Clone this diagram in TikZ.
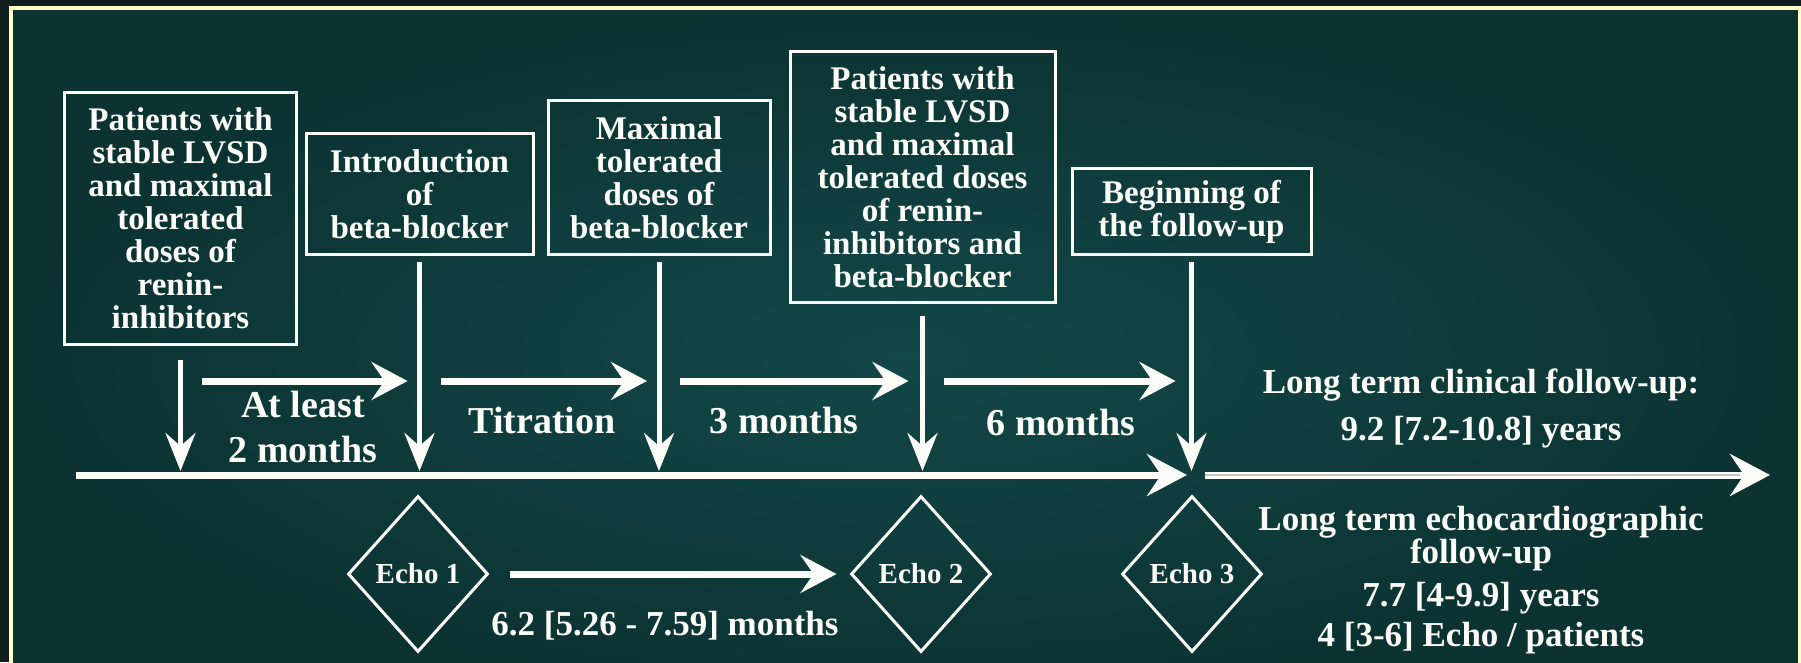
\documentclass[tikz,border=0pt]{standalone}
\usepackage{fontspec}
\setmainfont{Liberation Serif}
\usepackage{xcolor}
\usepackage{tikz}
\usetikzlibrary{arrows.meta,shapes.geometric,calc}
\definecolor{edgedark}{RGB}{15,31,31}
\definecolor{boardin}{RGB}{19,72,72}
\definecolor{boardout}{RGB}{12,50,50}
\definecolor{chalkframe}{RGB}{255,255,200}
\definecolor{chalk}{RGB}{252,252,248}
\tikzset{
  box/.style={
    draw=chalk,
    line width=3pt,
    align=center,
    anchor=south,
    inner sep=0pt,
    text=chalk,
    font=\fontsize{33}{33}\selectfont\bfseries
  },
  echo/.style={diamond, draw=chalk, line width=3pt, inner sep=0pt,
    minimum width=140pt, minimum height=156pt, text=chalk,
    font=\fontsize{29}{30}\selectfont\bfseries},
  lbl/.style={align=center, text=chalk, font=\fontsize{38}{45}\selectfont\bfseries},
  note/.style={align=center, text=chalk, font=\fontsize{35}{40}\selectfont\bfseries},
  drop/.style={draw=chalk, line width=5pt, -{Stealth[length=38pt, width=30pt, inset=13pt]}},
  span/.style={draw=chalk, line width=7pt, -{Stealth[length=36pt, width=38pt, inset=13pt]}},
  timeline/.style={draw=chalk, line width=7pt, -{Stealth[length=40pt, width=42pt, inset=14pt]}}
}

\begin{document}
\begin{tikzpicture}[x=1pt,y=-1pt]
    \useasboundingbox (0,0) rectangle (1801,662);
    \fill[edgedark] (0,0) rectangle (1801,662);
    \shade[inner color=boardin, outer color=boardout] (11,8) rectangle (1799.5,700);
    \draw[chalkframe, line width=4pt] (11,700) -- (11,8) -- (1799.5,8) -- (1799.5,700);

    % milestones above the time axis
    \node[box, minimum width=232pt, minimum height=252pt] (start) at (180.5,346)
      {Patients with\\stable LVSD\\and maximal\\tolerated\\doses of\\renin-\\inhibitors};
    \node[box, minimum width=227pt, minimum height=121pt] (intro) at (419.5,256)
      {Introduction\\of\\beta-blocker};
    \node[box, minimum width=222pt, minimum height=154pt] (maxdose) at (659,256)
      {Maximal\\tolerated\\doses of\\beta-blocker};
    \node[box, minimum width=265pt, minimum height=251pt] (stable) at (922.5,304)
      {Patients with\\stable LVSD\\and maximal\\tolerated doses\\of renin-\\inhibitors and\\beta-blocker};
    \node[box, minimum width=239pt, minimum height=86pt] (follow) at (1191.5,256)
      {Beginning of\\the follow-up};

    \coordinate (tl0) at (76,475);
    \coordinate (tl1) at (1187,475);
    \coordinate (tltop) at (76,471);
    \coordinate (fu0) at (1205,475);
    \coordinate (fu1) at (1770,475);
    \coordinate (hy) at (0,381);

    \node[lbl] (lead) at (303,427) {At least\\2 months};
    \node[lbl] (titr) at (542,420) {Titration};
    \node[lbl] (three) at (784,420) {3 months};
    \node[lbl] (six) at (1061,422) {6 months};

    \node[note, font=\fontsize{35}{47}\selectfont\bfseries] (clin) at (1481,408)
      {Long term clinical follow-up:\\9.2 [7.2-10.8] years};
    \node[note, font=\fontsize{35}{33}\selectfont\bfseries] (echolong) at (1481,539)
      {Long term echocardiographic\\follow-up};
    \node[note] (echocount) at (1481,618)
      {7.7 [4-9.9] years\\4 [3-6] Echo / patients};

    % echo visits below the axis
    \node[echo] (echo1) at (418,574) {Echo 1};
    \node[echo] (echo2) at (921,574) {Echo 2};
    \node[echo] (echo3) at (1192,574) {Echo 3};
    \node[note] (interval) at (665,626) {6.2 [5.26 - 7.59] months};

    \draw[drop] ($(start.south)+(0,14)$) -- (start.south |- tltop);
    \draw[drop] ($(intro.south)+(0,6)$) -- (intro.south |- tltop);
    \draw[drop] ($(maxdose.south)+(0,6)$) -- (maxdose.south |- tltop);
    \draw[drop] ($(stable.south)+(0,12)$) -- (stable.south |- tltop);
    \draw[drop] ($(follow.south)+(0,6)$) -- (follow.south |- tltop);

    \draw[span] ($(start.south |- hy)+(21,0)$) -- ($(intro.south |- hy)+(-12,0)$);
    \draw[span] ($(intro.south |- hy)+(21,0)$) -- ($(maxdose.south |- hy)+(-12,0)$);
    \draw[span] ($(maxdose.south |- hy)+(21,0)$) -- ($(stable.south |- hy)+(-14,0)$);
    \draw[span] ($(stable.south |- hy)+(21,0)$) -- ($(follow.south |- hy)+(-16,0)$);

    \draw[timeline] (tl0) -- (tl1);
    \draw[timeline] (fu0) -- (fu1);
    \draw[gray!45, line width=2.6pt, shorten >=30pt] (fu0) -- (fu1);

    \draw[span, shorten <=20pt, shorten >=13pt] (echo1) -- (echo2);
\end{tikzpicture}
\end{document}
